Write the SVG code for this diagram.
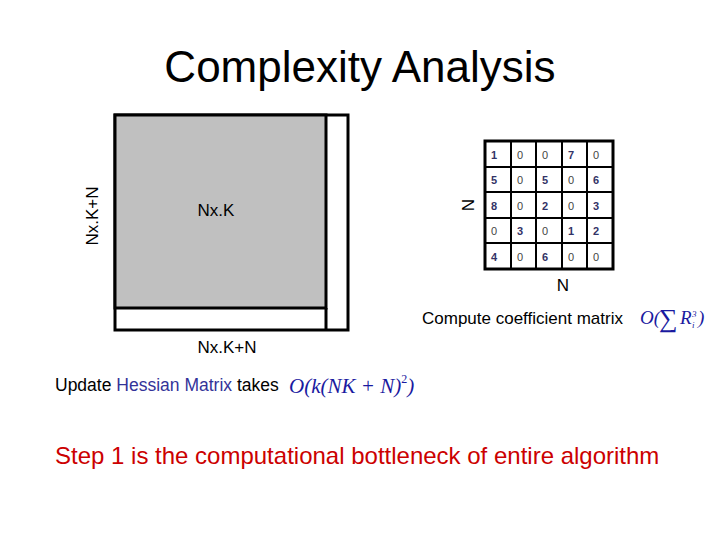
<svg xmlns="http://www.w3.org/2000/svg" width="720" height="540" viewBox="0 0 720 540">
<style>
text{font-family:"Liberation Sans",Arial,sans-serif}
.c{font-size:11px;fill:#444}
.b{font-size:11px;fill:#333366;font-weight:bold}
.m{font-family:"Liberation Serif","Times New Roman",serif;font-style:italic;fill:#1a1aa0}
</style>
<rect width="720" height="540" fill="#fff"/>
<text x="360" y="82" font-size="44" text-anchor="middle">Complexity Analysis</text>
<g id="hessian">
<rect x="115" y="115" width="233" height="215" fill="#fff" stroke="#000" stroke-width="3"/>
<rect x="115" y="115" width="211" height="193" fill="#c0c0c0" stroke="#000" stroke-width="3"/>
<line x1="326" y1="308" x2="326" y2="330" stroke="#000" stroke-width="3"/>
<text x="216" y="216" font-size="17" text-anchor="middle">Nx.K</text>
<text transform="translate(98,216) rotate(-90)" font-size="17" text-anchor="middle">Nx.K+N</text>
<text x="227" y="353" font-size="17" text-anchor="middle">Nx.K+N</text>
</g>
<g id="matrix">
<rect x="485" y="141" width="128" height="128" fill="#fff" stroke="#000" stroke-width="3"/>
<g stroke="#000" stroke-width="2">
<line x1="511" y1="141" x2="511" y2="269"/><line x1="536" y1="141" x2="536" y2="269"/><line x1="562" y1="141" x2="562" y2="269"/><line x1="587" y1="141" x2="587" y2="269"/>
<line x1="485" y1="167" x2="613" y2="167"/><line x1="485" y1="192" x2="613" y2="192"/><line x1="485" y1="218" x2="613" y2="218"/><line x1="485" y1="243" x2="613" y2="243"/>
</g>
<text class="b" x="491" y="159">1</text><text class="c" x="517" y="159">0</text><text class="c" x="542" y="159">0</text><text class="b" x="568" y="159">7</text><text class="c" x="593" y="159">0</text>
<text class="b" x="491" y="184">5</text><text class="c" x="517" y="184">0</text><text class="b" x="542" y="184">5</text><text class="c" x="568" y="184">0</text><text class="b" x="593" y="184">6</text>
<text class="b" x="491" y="210">8</text><text class="c" x="517" y="210">0</text><text class="b" x="542" y="210">2</text><text class="c" x="568" y="210">0</text><text class="b" x="593" y="210">3</text>
<text class="c" x="491" y="235">0</text><text class="b" x="517" y="235">3</text><text class="c" x="542" y="235">0</text><text class="b" x="568" y="235">1</text><text class="b" x="593" y="235">2</text>
<text class="b" x="491" y="261">4</text><text class="c" x="517" y="261">0</text><text class="b" x="542" y="261">6</text><text class="c" x="568" y="261">0</text><text class="c" x="593" y="261">0</text>
<text transform="translate(474,205) rotate(-90)" font-size="17" text-anchor="middle">N</text>
<text x="563" y="291" font-size="17" text-anchor="middle">N</text>
</g>
<g id="labels">
<text x="422" y="324" font-size="17">Compute coefficient matrix</text>
<text class="m" x="640" y="324" font-size="19">O(</text>
<text class="m" x="659" y="327" font-size="26" font-style="normal">∑</text>
<text class="m" x="680" y="324" font-size="19">R</text>
<text class="m" x="692" y="317" font-size="9">3</text>
<text class="m" x="692" y="328" font-size="9">i</text>
<text class="m" x="698" y="324" font-size="19">)</text>
<text x="55" y="391" font-size="17.5">Update <tspan fill="#333399">Hessian Matrix</tspan> takes</text>
<text class="m" x="289" y="393" font-size="21">O(k(NK + N)<tspan font-style="normal" font-size="12" dy="-10">2</tspan><tspan dy="10">)</tspan></text>
<text x="55" y="464" font-size="24" fill="#cc0000">Step 1 is the computational bottleneck of entire algorithm</text>
</g>
</svg>
